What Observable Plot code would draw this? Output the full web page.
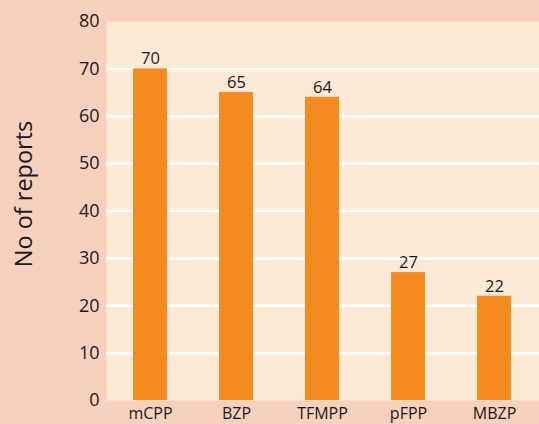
<!DOCTYPE html>
<html>
<head>
<meta charset="utf-8">
<script src="https://cdn.jsdelivr.net/npm/d3@7"></script>
<script src="https://cdn.jsdelivr.net/npm/@observablehq/plot@0.6"></script>
<style>
  html, body { margin: 0; padding: 0; background: #F7D0BE; }
  #chart svg { display: block; }
</style>
</head>
<body>
<div id="chart"></div>
<script>
// Piperazine compounds and number of reports for each
const substances = ["mCPP", "BZP", "TFMPP", "pFPP", "MBZP"];
const reports = [70, 65, 64, 27, 22];
const yTicks = [0, 10, 20, 30, 40, 50, 60, 70, 80];
const gridLines = [10, 20, 30, 40, 50, 60, 70];

const data = substances.map((name, i) => ({name, value: reports[i]}));

const chart = Plot.plot({
  width: 539,
  height: 424,
  marginLeft: 106,
  marginRight: 0,
  marginTop: 21,
  marginBottom: 24,
  style: {background: "transparent", fontFamily: "'Open Sans', sans-serif", color: "#1a1a1a"},
  x: {domain: substances, paddingInner: 0.6, paddingOuter: 0.3, label: null},
  y: {domain: [0, 80], label: null},
  marks: [
    Plot.frame({fill: "#FCE9D6", stroke: null}),
    Plot.ruleY(gridLines, {stroke: "white", strokeWidth: 2.5}),
    Plot.barY(data, {x: "name", y: "value", fill: "#F58A1F"}),
    Plot.text(data, {x: "name", y: "value", text: d => String(d.value), dy: -10, fontSize: 16.5, fill: "#1a1a1a"}),
    Plot.axisY({ticks: yTicks, tickSize: 0, tickPadding: 7, fontSize: 18, label: null}),
    Plot.axisX({tickSize: 0, tickPadding: 7.5, fontSize: 16, label: null}),
    Plot.text(["No of reports"], {frameAnchor: "left", textAnchor: "middle", dx: -82, dy: -17, rotate: -90, fontSize: 23.5, fill: "#1a1a1a"})
  ]
});

document.getElementById("chart").append(chart);
</script>
</body>
</html>
